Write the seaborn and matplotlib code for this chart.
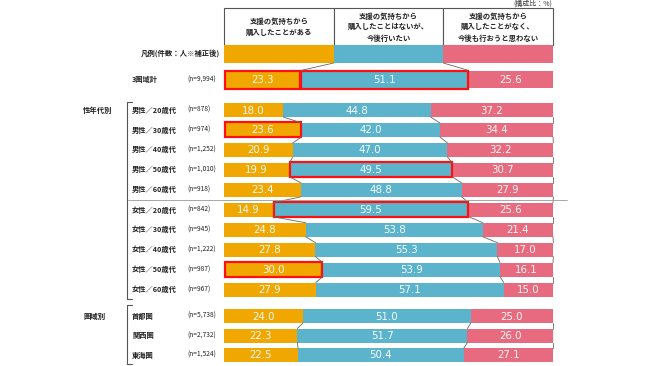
import numpy as np
import matplotlib.pyplot as plt
import seaborn as sns
from matplotlib.patches import Rectangle
from matplotlib.transforms import blended_transform_factory

# ---- data ----
row_labels = ['3圏域計',
              '男性／20歳代', '男性／30歳代', '男性／40歳代', '男性／50歳代', '男性／60歳代',
              '女性／20歳代', '女性／30歳代', '女性／40歳代', '女性／50歳代', '女性／60歳代',
              '首都圏', '関西圏', '東海圏']
n_labels = ['(n=9,994)',
            '(n=878)', '(n=974)', '(n=1,252)', '(n=1,010)', '(n=918)',
            '(n=842)', '(n=945)', '(n=1,222)', '(n=987)', '(n=967)',
            '(n=5,738)', '(n=2,732)', '(n=1,524)']
bought = [23.3, 18.0, 23.6, 20.9, 19.9, 23.4, 14.9, 24.8, 27.8, 30.0, 27.9, 24.0, 22.3, 22.5]
want = [51.1, 44.8, 42.0, 47.0, 49.5, 48.8, 59.5, 53.8, 55.3, 53.9, 57.1, 51.0, 51.7, 50.4]
not_want = [25.6, 37.2, 34.4, 32.2, 30.7, 27.9, 25.6, 21.4, 17.0, 16.1, 15.0, 25.0, 26.0, 27.1]
headers = ['支援の気持ちから\n購入したことがある',
           '支援の気持ちから\n購入したことはないが、\n今後行いたい',
           '支援の気持ちから\n購入したことがなく、\n今後も行おうと思わない']
group_labels = ['性年代別', '圏域別']
highlights = [(0, 0), (0, 1), (2, 0), (4, 1), (6, 1), (9, 0)]

colors = ['#F0A800', '#5BB4CC', '#E86A7E']

sns.set_theme(style='white')
plt.rcParams['font.family'] = ['Noto Sans CJK JP', 'DejaVu Sans']

fig = plt.figure(figsize=(6.5, 3.66), dpi=100)
ax = fig.add_axes([224 / 650, 0, 329 / 650, 1])
ax.set_xlim(0, 100)
ax.set_ylim(366, 0)
ax.axis('off')
trans = blended_transform_factory(fig.transFigure, ax.transData)

# row layout (pixel rows)
ypos = [79.5] + [110 + i * 19.95 for i in range(10)] + [316 + i * 19.5 for i in range(3)]
hts = [17] + [14] * 13

vals = np.array([bought, want, not_want]).T
lefts = np.cumsum(vals, axis=1) - vals

for k in range(3):
    ax.barh(ypos, vals[:, k], left=lefts[:, k], height=hts, color=colors[k], linewidth=0)
    for i in range(len(ypos)):
        ax.text(lefts[i, k] + vals[i, k] / 2, ypos[i] + 0.5, f'{vals[i, k]:.1f}',
                ha='center', va='center', color='#F8F8F8', fontsize=7.4,
                family=['DejaVu Sans'])

for i, k in highlights:
    ax.add_patch(Rectangle((lefts[i, k] + 0.2, ypos[i] - hts[i] / 2 - 0.5), vals[i, k] - 0.4, hts[i] + 1,
                           fill=False, edgecolor='#FF1010', linewidth=1.6, clip_on=False))

# connector lines
pairs = [(i, i + 1) for i in range(1, 10)] + [(11, 12), (12, 13)]
cums = np.cumsum(vals, axis=1)
for a, b in pairs:
    for k in range(3):
        ax.plot([cums[a, k], cums[b, k]], [ypos[a] + hts[a] / 2, ypos[b] - hts[b] / 2],
                color='#666666', linewidth=0.6, clip_on=False)

# header + legend
for j in range(3):
    ax.add_patch(Rectangle((j * 100 / 3, 8), 100 / 3, 37, facecolor='white',
                           edgecolor='#555555', linewidth=0.8, clip_on=False))
    ax.add_patch(Rectangle((j * 100 / 3, 45), 100 / 3, 18, facecolor=colors[j],
                           linewidth=0, clip_on=False))
    ax.text(j * 100 / 3 + 50 / 3, 27, headers[j], ha='center', va='center',
            fontsize=5.3, color='#222222', linespacing=1.6, fontweight='bold')
for k in range(2):
    ax.plot([(k + 1) * 100 / 3, cums[0, k]], [63, 70.5], color='#666666', linewidth=0.6, clip_on=False)

ax.text(552 / 650, 4, '(構成比：%)', transform=trans, ha='right', va='center',
        fontsize=5, color='#333333')
ax.text(220 / 650, 54, '凡例(件数：人※補正後)', transform=trans, ha='right', va='center',
        fontsize=5.3, color='#222222', fontweight='bold')

# row labels
for i in range(len(ypos)):
    ax.text(132 / 650, ypos[i], row_labels[i], transform=trans, ha='left', va='center',
            fontsize=5.2, color='#222222', fontweight='bold')
    ax.text(187 / 650, ypos[i], n_labels[i], transform=trans, ha='left', va='center',
            fontsize=4.8, color='#222222')

ax.text(83 / 650, ypos[1], group_labels[0], transform=trans, ha='left', va='center',
        fontsize=5.3, color='#222222', fontweight='bold')
ax.text(83 / 650, ypos[11], group_labels[1], transform=trans, ha='left', va='center',
        fontsize=5.3, color='#222222', fontweight='bold')

# brackets
for top, bot in [(102, 299), (305, 364)]:
    ax.plot([132 / 650, 127 / 650, 127 / 650, 132 / 650], [top, top, bot, bot],
            transform=trans, color='#555555', linewidth=0.8, clip_on=False)

# separator between male / female
ax.plot([128 / 650, 567 / 650], [199.5, 199.5], transform=trans, color='#999999',
        linewidth=0.6, clip_on=False)

fig.savefig('out.png', dpi=100)
